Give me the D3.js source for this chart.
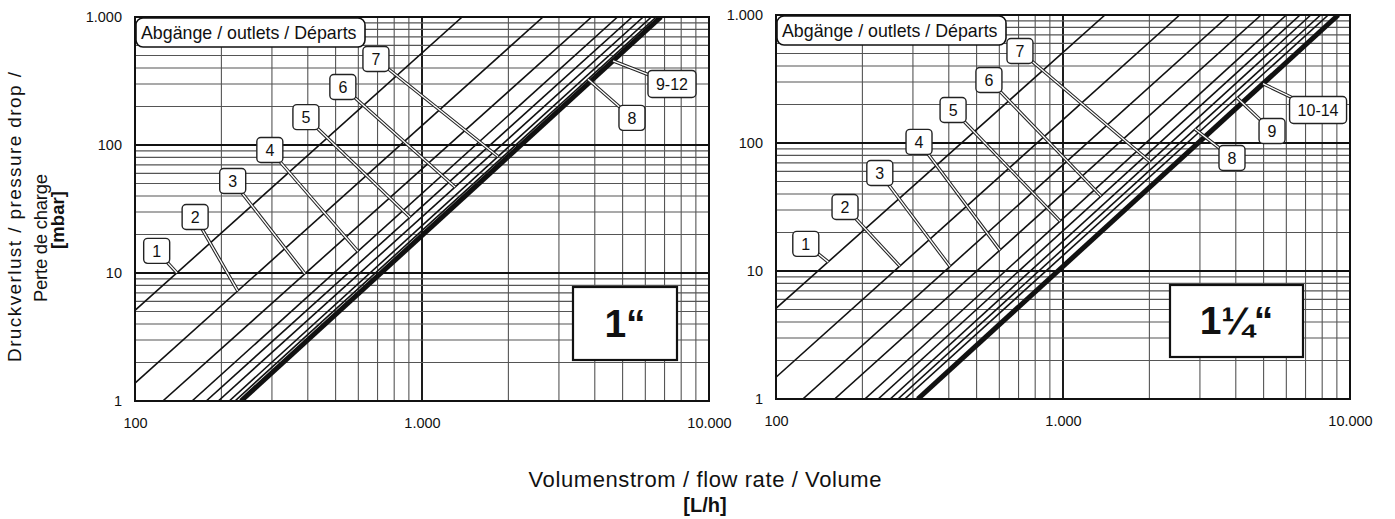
<!DOCTYPE html>
<html>
<head>
<meta charset="utf-8">
<script src="https://cdn.jsdelivr.net/npm/d3@7"></script>
<style>
  body { margin: 0; background: #fff; }
  text { font-family: Arial, "Liberation Sans", sans-serif; fill: #111; }
</style>
</head>
<body>
<svg id="chart" width="1395" height="519"></svg>
<script>
// axis ticks (shared by both panels)
var xTicks = [100, 1000, 10000];
var xTickLabels = ["100", "1.000", "10.000"];
var yTicks = [1, 10, 100, 1000];
var yTickLabels = ["1", "10", "100", "1.000"];

// 1" manifold: outlets, line start / end [flow L/h, pressure drop mbar]
var outlets1 = ["1", "2", "3", "4", "5", "6", "7", "8", "9-12"];
var from1 = [[100, 5.1], [100, 1.38], [125, 1], [158, 1], [177, 1], [195, 1], [213, 1], [223, 1], [234, 1]];
var to1 = [[1380, 1000], [2640, 1000], [3900, 1000], [4800, 1000], [5400, 1000], [5900, 1000], [6300, 1000], [6550, 1000], [6800, 1000]];
var tagAt1 = [[119, 14.9], [162, 27.4], [219, 52.3], [295, 91.4], [394, 165], [530, 284], [691, 470], [5390, 163], [7430, 300]];
var leaderFlow1 = [140, 228, 391, 598, 908, 1303, 1840, 3787, 4630];

// 1 1/4" manifold
var outlets2 = ["1", "2", "3", "4", "5", "6", "7", "8", "9", "10-14"];
var from2 = [[100, 5.1], [100, 1.48], [124, 1], [160, 1], [204, 1], [227, 1], [250, 1], [266, 1], [281, 1], [312, 1]];
var to2 = [[1400, 1000], [2550, 1000], [3800, 1000], [4900, 1000], [6000, 1000], [6700, 1000], [7300, 1000], [7900, 1000], [8400, 1000], [9100, 1000]];
var tagAt2 = [[127, 16.3], [174, 31.6], [230, 58.3], [315, 102], [414, 181], [552, 311], [708, 523], [3880, 76.4], [5350, 124], [7740, 181]];
var leaderFlow2 = [152, 270, 404, 603, 977, 1357, 2010, 2884, 4040, 4977];

var svg = d3.select('#chart');

var panels = [
  { id: 'p1', left: 135, right: 709, top: 17, bottom: 401, outlets: outlets1, from: from1, to: to1,
    tagAt: tagAt1, leaderFlow: leaderFlow1, size: '1\u201C', sizeBox: [573, 287, 104, 73] },
  { id: 'p2', left: 776, right: 1350, top: 15, bottom: 399, outlets: outlets2, from: from2, to: to2,
    tagAt: tagAt2, leaderFlow: leaderFlow2, size: '1\u00BC\u201C', sizeBox: [1170, 285, 133, 72] }
];

// pressure drop on a straight log-log line at a given flow
function dpOnLine(a, b, v) {
  var t = (Math.log10(v) - Math.log10(a[0])) / (Math.log10(b[0]) - Math.log10(a[0]));
  return Math.pow(10, Math.log10(a[1]) + t * (Math.log10(b[1]) - Math.log10(a[1])));
}

function isDecade(v) {
  return Math.abs(Math.log10(v) - Math.round(Math.log10(v))) < 1e-6;
}

panels.forEach(function(p) {
  var x = d3.scaleLog().domain([100, 10000]).range([p.left, p.right]);
  var y = d3.scaleLog().domain([1, 1000]).range([p.bottom, p.top]);
  var g = svg.append('g');

  g.append('clipPath').attr('id', 'clip-' + p.id)
    .append('rect')
    .attr('x', p.left).attr('y', p.top)
    .attr('width', p.right - p.left).attr('height', p.bottom - p.top);

  // log grid
  g.append('g').selectAll('line')
    .data(x.ticks())
    .enter().append('line')
    .attr('x1', function(d) { return x(d); })
    .attr('x2', function(d) { return x(d); })
    .attr('y1', p.top).attr('y2', p.bottom)
    .attr('stroke', function(d) { return isDecade(d) ? '#111' : '#555'; })
    .attr('stroke-width', function(d) { return isDecade(d) ? 1.9 : 1.1; });

  g.append('g').selectAll('line')
    .data(y.ticks())
    .enter().append('line')
    .attr('y1', function(d) { return y(d); })
    .attr('y2', function(d) { return y(d); })
    .attr('x1', p.left).attr('x2', p.right)
    .attr('stroke', function(d) { return isDecade(d) ? '#111' : '#555'; })
    .attr('stroke-width', function(d) { return isDecade(d) ? 1.9 : 1.1; });

  // pressure drop lines
  var line = d3.line()
    .x(function(d) { return x(d[0]); })
    .y(function(d) { return y(d[1]); });
  var last = p.outlets.length - 1;

  g.append('g').attr('clip-path', 'url(#clip-' + p.id + ')')
    .selectAll('path')
    .data(p.outlets)
    .enter().append('path')
    .attr('d', function(d, i) { return line([p.from[i], p.to[i]]); })
    .attr('fill', 'none')
    .attr('stroke', '#111')
    .attr('stroke-width', function(d, i) { return i === last ? 5 : 1.6; });

  // leaders (double line) and outlet tags
  var tags = g.append('g').selectAll('g')
    .data(p.outlets)
    .enter().append('g');

  function leaderPath(d, i) {
    var v = p.leaderFlow[i];
    var dp = dpOnLine(p.from[i], p.to[i], v);
    return 'M' + x(p.tagAt[i][0]) + ',' + y(p.tagAt[i][1]) + 'L' + x(v) + ',' + y(dp);
  }
  tags.append('path').attr('d', leaderPath)
    .attr('stroke', '#222').attr('stroke-width', 3.4).attr('fill', 'none');
  tags.append('path').attr('d', leaderPath)
    .attr('stroke', '#fff').attr('stroke-width', 1.3).attr('fill', 'none');

  tags.each(function(d, i) {
    var w = d.length > 1 ? 12 + d.length * 9 : 26;
    var h = d.length > 1 ? 27 : 25;
    var cx = x(p.tagAt[i][0]);
    var cy = y(p.tagAt[i][1]);
    d3.select(this).append('rect')
      .attr('x', cx - w / 2).attr('y', cy - h / 2)
      .attr('width', w).attr('height', h)
      .attr('rx', 4)
      .attr('fill', '#fff').attr('stroke', '#222').attr('stroke-width', 1.4);
    d3.select(this).append('text')
      .attr('x', cx).attr('y', cy + 6)
      .attr('text-anchor', 'middle')
      .attr('font-size', 16)
      .text(d);
  });

  // frame
  g.append('rect')
    .attr('x', p.left).attr('y', p.top)
    .attr('width', p.right - p.left).attr('height', p.bottom - p.top)
    .attr('fill', 'none').attr('stroke', '#111').attr('stroke-width', 2);

  // outlets caption
  g.append('rect')
    .attr('x', p.left + 1).attr('y', p.top + 1)
    .attr('width', 229).attr('height', 29).attr('rx', 7)
    .attr('fill', '#fff').attr('stroke', '#111').attr('stroke-width', 1.6);
  g.append('text')
    .attr('x', p.left + 6).attr('y', p.top + 22)
    .attr('font-size', 17.8)
    .text('Abg\u00E4nge / outlets / D\u00E9parts');

  // pipe size box
  var b = p.sizeBox;
  g.append('rect')
    .attr('x', b[0]).attr('y', b[1]).attr('width', b[2]).attr('height', b[3])
    .attr('fill', '#fff').attr('stroke', '#111').attr('stroke-width', 2.2);
  g.append('text')
    .attr('x', b[0] + b[2] / 2).attr('y', b[1] + b[3] / 2 + 13)
    .attr('text-anchor', 'middle')
    .attr('font-size', 39).attr('font-weight', 'bold')
    .text(p.size);

  // axes
  var xAxis = d3.axisBottom(x)
    .tickValues(xTicks)
    .tickFormat(function(d, i) { return xTickLabels[i]; })
    .tickSize(0).tickPadding(17);
  var ax = g.append('g').attr('transform', 'translate(0,' + p.bottom + ')').call(xAxis);
  ax.select('.domain').remove();
  ax.selectAll('text').attr('font-size', 14.5).attr('font-family', 'Arial, "Liberation Sans", sans-serif');

  var yAxis = d3.axisLeft(y)
    .tickValues(yTicks)
    .tickFormat(function(d, i) { return yTickLabels[i]; })
    .tickSize(0).tickPadding(13);
  var ay = g.append('g').attr('transform', 'translate(' + p.left + ',0)').call(yAxis);
  ay.select('.domain').remove();
  ay.selectAll('text').attr('font-size', 14.5).attr('font-family', 'Arial, "Liberation Sans", sans-serif');
});

// axis titles
var yt = svg.append('g').attr('transform', 'translate(0,217) rotate(-90)');
yt.append('text').attr('x', 0).attr('y', 21).attr('text-anchor', 'middle')
  .attr('font-size', 19).attr('textLength', 290).attr('lengthAdjust', 'spacing')
  .text('Druckverlust / pressure drop /');
yt.append('text').attr('x', -21).attr('y', 47).attr('text-anchor', 'middle')
  .attr('font-size', 18.5).attr('textLength', 128).attr('lengthAdjust', 'spacing')
  .text('Perte de charge');
yt.append('text').attr('x', -3).attr('y', 64).attr('text-anchor', 'middle')
  .attr('font-size', 18.5).attr('font-weight', 'bold').attr('textLength', 58).attr('lengthAdjust', 'spacing')
  .text('[mbar]');

svg.append('text').attr('x', 705).attr('y', 487).attr('text-anchor', 'middle')
  .attr('font-size', 22).attr('textLength', 353).attr('lengthAdjust', 'spacing')
  .text('Volumenstrom / flow rate / Volume');
svg.append('text').attr('x', 705).attr('y', 512).attr('text-anchor', 'middle')
  .attr('font-size', 20).attr('font-weight', 'bold')
  .text('[L/h]');
</script>
</body>
</html>
